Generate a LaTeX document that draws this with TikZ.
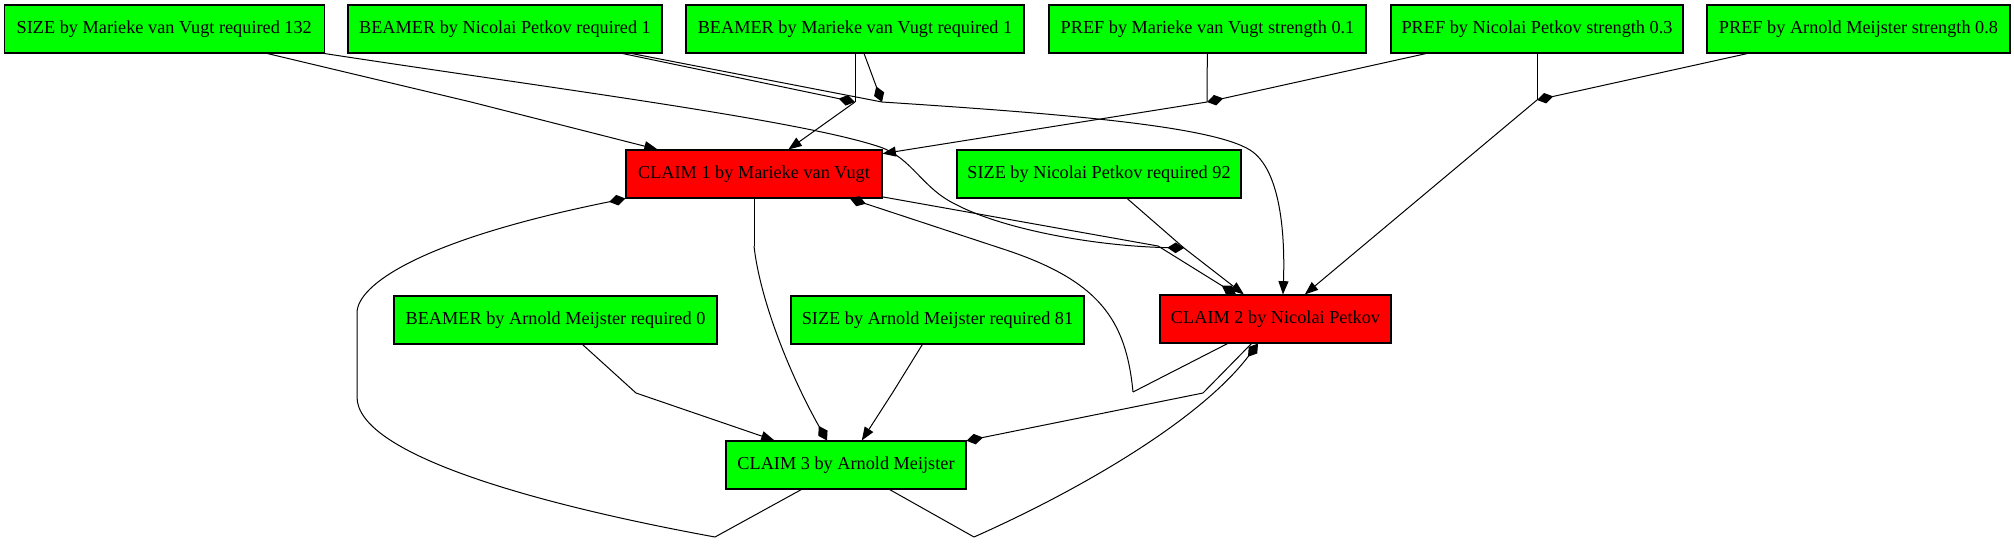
\documentclass[tikz,border=0pt]{standalone}
\usepackage{fontspec}
\setmainfont{Liberation Serif}
\usetikzlibrary{arrows.meta}
\definecolor{gvgreen}{RGB}{0,255,0}
\definecolor{gvred}{RGB}{255,0,0}
\begin{document}
\begin{tikzpicture}[x=0.75pt,y=-0.75pt,
  box/.style={draw=black, line width=0.8pt, minimum height=36pt, inner sep=0pt,
              font=\fontsize{13.7}{16}\selectfont},
  cons/.style={box, fill=gvgreen},
  claimr/.style={box, fill=gvred},
  edge/.style={line width=0.75pt, draw=black},
  tosup/.style={edge, -{Triangle[length=10pt,width=7.5pt]}},
  toatt/.style={edge, -{Diamond[length=12.5pt,width=8pt]}}
]
\useasboundingbox (0,0) rectangle (2014,544);

% nodes
\node[cons, minimum width=239.6pt]  (A1) at (164.3,29) {SIZE by Marieke van Vugt required 132};
\node[cons, minimum width=235.5pt]  (A2) at (505,29)   {BEAMER by Nicolai Petkov required 1};
\node[cons, minimum width=253.5pt]  (A3) at (855,29)   {BEAMER by Marieke van Vugt required 1};
\node[cons, minimum width=237.75pt] (A4) at (1207.5,29){PREF by Marieke van Vugt strength 0.1};
\node[cons, minimum width=219pt]    (A5) at (1537,29)  {PREF by Nicolai Petkov strength 0.3};
\node[cons, minimum width=227.25pt] (A6) at (1858.5,29){PREF by Arnold Meijster strength 0.8};
\node[claimr, minimum width=192pt]  (CL1) at (754,174) {CLAIM 1 by Marieke van Vugt};
\node[cons, minimum width=213pt]    (B2) at (1099,174) {SIZE by Nicolai Petkov required 92};
\node[cons, minimum width=242.25pt] (C1) at (555.5,320){BEAMER by Arnold Meijster required 0};
\node[cons, minimum width=219.75pt] (C2) at (937.5,320){SIZE by Arnold Meijster required 81};
\node[claimr, minimum width=173.25pt] (CL2) at (1275.5,319) {CLAIM 2 by Nicolai Petkov};
\node[cons, minimum width=180pt]    (CL3) at (846,465) {CLAIM 3 by Arnold Meijster};

% junction points
\coordinate (Q1) at (471,102);
\coordinate (P1) at (855,102);
\coordinate (P2) at (882,102);
\coordinate (P3) at (1207,102);
\coordinate (P4) at (1537,100);
\coordinate (P5) at (1158,246);
\coordinate (P6) at (1184,248);
\coordinate (R5) at (754,246);
\coordinate (R3) at (1133,392);
\coordinate (R4) at (1203,393);
\coordinate (T1) at (636,393);
\coordinate (T2) at (893,392);
\coordinate (R1) at (715,537);
\coordinate (R2) at (974,537);

% supports of claim 1
\draw[edge] (A1) -- (Q1);
\draw[tosup] (Q1) -- (CL1);
\draw[edge] (A3) -- (P1);
\draw[toatt] (A2) -- (P1);
\draw[tosup] (P1) -- (CL1);
\draw[edge] (A4) -- (P3);
\draw[toatt] (A5) -- (P3);
\draw[tosup] (P3) -- (CL1);

% supports of claim 2
\draw[edge] (A2) -- (P2);
\draw[toatt] (A3) -- (P2);
\draw[tosup] (P2) .. controls (1050,113) and (1210,125) .. (1250,150)
                  .. controls (1282,170) and (1285,240) .. ([xshift=5.6pt]CL2.north);
\draw[edge] (A5) -- (P4);
\draw[toatt] (A6) -- (P4);
\draw[tosup] (P4) -- (CL2);
\draw[edge] (B2) -- (P6);
\draw[toatt] (A1.south east) .. controls (550,88) and (800,120) .. (880,147)
             .. controls (912,158) and (922,188) .. (955,204)
             .. controls (1000,228) and (1090,246) .. (P6);
\draw[tosup] (P6) -- (CL2);

% supports of claim 3
\draw[edge] (C1) -- (T1);
\draw[tosup] (T1) -- (CL3);
\draw[edge] (C2) -- (T2);
\draw[tosup] (T2) -- (CL3);

% attacks between claims
\draw[edge] (CL1) -- (P5);
\draw[toatt] (P5) -- (CL2);
\draw[edge] (CL1.south) -- (R5);
\draw[toatt] (R5) .. controls (760,300) and (790,375) .. ([xshift=-14.25pt]CL3.north);
\draw[edge] (CL2) -- (R3);
\draw[toatt] (R3) .. controls (1126,320) and (1100,280) .. (1000,248) -- ([xshift=72pt]CL1.south);
\draw[edge] (CL2) -- (R4);
\draw[toatt] (R4) -- (CL3);
\draw[edge] (CL3) -- (R1);
\draw[toatt] (R1) .. controls (540,505) and (357,455) .. (357,397) -- (357,313)
             .. controls (357,285) and (420,240) .. (CL1.south west);
\draw[edge] (CL3) -- (R2);
\draw[toatt] (R2) .. controls (1080,490) and (1200,420) .. ([xshift=-13.1pt]CL2.south);
\end{tikzpicture}
\end{document}
